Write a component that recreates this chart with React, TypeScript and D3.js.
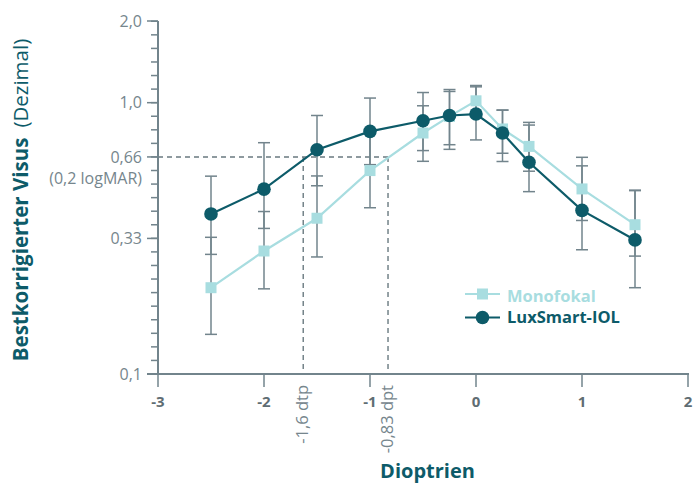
import React from 'react'
import * as d3 from 'd3'

// Defokuskurve: Dioptrien vs. bestkorrigierter Visus (dezimal, log-Skala)
const dioptrien = [-2.5, -2, -1.5, -1, -0.5, -0.25, 0, 0.25, 0.5, 1, 1.5]

const monoMean = [0.208, 0.284, 0.375, 0.562, 0.773, 0.89, 1.016, 0.8, 0.69, 0.481, 0.355]
const monoLow = [0.14, 0.206, 0.27, 0.41, 0.608, 0.7, 0.903, 0.607, 0.559, 0.368, 0.272]
const monoHigh = [0.319, 0.397, 0.537, 0.769, 0.974, 1.1, 1.144, 0.939, 0.846, 0.629, 0.476]

const luxMean = [0.389, 0.48, 0.671, 0.784, 0.858, 0.897, 0.908, 0.773, 0.603, 0.401, 0.312]
const luxLow = [0.276, 0.344, 0.494, 0.591, 0.666, 0.673, 0.729, 0.651, 0.47, 0.287, 0.208]
const luxHigh = [0.536, 0.712, 0.897, 1.04, 1.09, 1.118, 1.157, 0.939, 0.827, 0.585, 0.474]

const xTicks = [-3, -2, -1, 0, 1, 2]
const xTickLabels = ['-3', '-2', '-1', '0', '1', '2']
const yTickValues = [0.1, 0.316, 0.631, 1, 2]
const yTickLabels = ['0,1', '0,33', '0,66', '1,0', '2,0']
// Nebenstriche alle 0,05 logMAR
const yMinorLog = d3.range(-1, 0.3001, 0.05)

const refVisus = 0.631
const refDpt = [-1.63, -0.83]
const refLabels = ['-1,6 dtp', '-0,83 dpt']

const DARK = '#0d5b69'
const LIGHT = '#a8dde0'
const GREY = '#72848c'
const TEXT = '#76868d'

const W = 700
const H = 485

export default function App() {
  const x = d3.scaleLinear().domain([-3, 2]).range([158, 688])
  const y = d3.scaleLog().domain([0.1, 2]).range([374, 21])

  const line = d3.line<[number, number]>()
    .x(d => x(d[0]))
    .y(d => y(d[1]))

  const monoPts = dioptrien.map((d, i) => [d, monoMean[i]] as [number, number])
  const luxPts = dioptrien.map((d, i) => [d, luxMean[i]] as [number, number])

  const errorBar = (d: number, lo: number, hi: number, key: string) => (
    <g key={key} stroke={GREY} strokeWidth={1.5}>
      <line x1={x(d)} x2={x(d)} y1={y(hi)} y2={y(lo)} />
      <line x1={x(d) - 6} x2={x(d) + 6} y1={y(hi)} y2={y(hi)} />
      <line x1={x(d) - 6} x2={x(d) + 6} y1={y(lo)} y2={y(lo)} />
    </g>
  )

  const font = '"Open Sans", "Noto Sans", sans-serif'

  return (
    <svg width={W} height={H} style={{ position: 'absolute', left: 0, top: 0, background: '#fff' }} fontFamily={font}>
      {/* Referenzlinien */}
      <g stroke="#6a7a80" strokeWidth={1.4} strokeDasharray="5,4" fill="none">
        <line x1={x(-3)} x2={x(refDpt[1])} y1={y(refVisus)} y2={y(refVisus)} />
        {refDpt.map(d => (
          <line key={d} x1={x(d)} x2={x(d)} y1={y(refVisus)} y2={y(0.1)} />
        ))}
      </g>

      {/* y-Achse */}
      <g stroke={GREY} strokeWidth={1.5}>
        <line x1={x(-3)} x2={x(-3)} y1={y(2)} y2={y(0.1)} strokeWidth={2} />
        {yMinorLog.map(l => (
          <line key={l} x1={x(-3) - 7} x2={x(-3)} y1={y(Math.pow(10, l))} y2={y(Math.pow(10, l))} />
        ))}
        {yTickValues.map(v => (
          <line key={v} x1={x(-3) - 11} x2={x(-3)} y1={y(v)} y2={y(v)} />
        ))}
      </g>
      <g fill={TEXT} fontSize={16} textAnchor="end">
        {yTickValues.map((v, i) => (
          <text key={v} x={x(-3) - 16} y={y(v)} dy="0.35em">{yTickLabels[i]}</text>
        ))}
        <text x={x(-3) - 16} y={y(refVisus) + 21} dy="0.35em">(0,2 logMAR)</text>
      </g>

      {/* x-Achse */}
      <g stroke={GREY} strokeWidth={2}>
        <line x1={x(-3) - 11} x2={x(2) + 1} y1={y(0.1)} y2={y(0.1)} />
        {xTicks.map(t => (
          <line key={t} x1={x(t)} x2={x(t)} y1={y(0.1)} y2={y(0.1) + 13} strokeWidth={1.5} />
        ))}
      </g>
      <g fill="#5f6d73" fontSize={15} fontWeight="bold" textAnchor="middle">
        {xTicks.map((t, i) => (
          <text key={t} x={x(t)} y={y(0.1) + 33}>{xTickLabels[i]}</text>
        ))}
      </g>
      <g fill={TEXT} fontSize={16.5} textAnchor="end">
        {refDpt.map((d, i) => (
          <text key={d} transform={`translate(${x(d) + 5},${y(0.1) + 11}) rotate(-90)`}>{refLabels[i]}</text>
        ))}
      </g>

      {/* Fehlerbalken */}
      {dioptrien.map((d, i) => errorBar(d, monoLow[i], monoHigh[i], 'm' + i))}
      {dioptrien.map((d, i) => errorBar(d, luxLow[i], luxHigh[i], 'l' + i))}

      {/* Monofokal */}
      <path d={line(monoPts) || ''} fill="none" stroke={LIGHT} strokeWidth={2.2} />
      {monoPts.map(p => (
        <rect key={p[0]} x={x(p[0]) - 5.5} y={y(p[1]) - 5.5} width={11} height={11} fill={LIGHT} />
      ))}

      {/* LuxSmart-IOL */}
      <path d={line(luxPts) || ''} fill="none" stroke={DARK} strokeWidth={2.2} />
      {luxPts.map(p => (
        <circle key={p[0]} cx={x(p[0])} cy={y(p[1])} r={6.8} fill={DARK} />
      ))}

      {/* Legende */}
      <g fontSize={16.5} fontWeight="bold">
        <line x1={465} x2={500} y1={294} y2={294} stroke={LIGHT} strokeWidth={2.2} />
        <rect x={477} y={288.5} width={11} height={11} fill={LIGHT} />
        <text x={507} y={301.5} fill={LIGHT}>Monofokal</text>
        <line x1={465} x2={500} y1={317.5} y2={317.5} stroke={DARK} strokeWidth={2.2} />
        <circle cx={482.5} cy={317.5} r={6.8} fill={DARK} />
        <text x={507} y={323} fill={DARK}>LuxSmart-IOL</text>
      </g>

      {/* Achsentitel */}
      <text transform="translate(28,200) rotate(-90)" textAnchor="middle" fill={DARK} fontSize={20.5}>
        <tspan fontWeight="bold">Bestkorrigierter Visus</tspan>
        <tspan dx={10}>(Dezimal)</tspan>
      </text>
      <text x={427.5} y={478} textAnchor="middle" fill={DARK} fontSize={20} fontWeight="bold">Dioptrien</text>
    </svg>
  )
}
